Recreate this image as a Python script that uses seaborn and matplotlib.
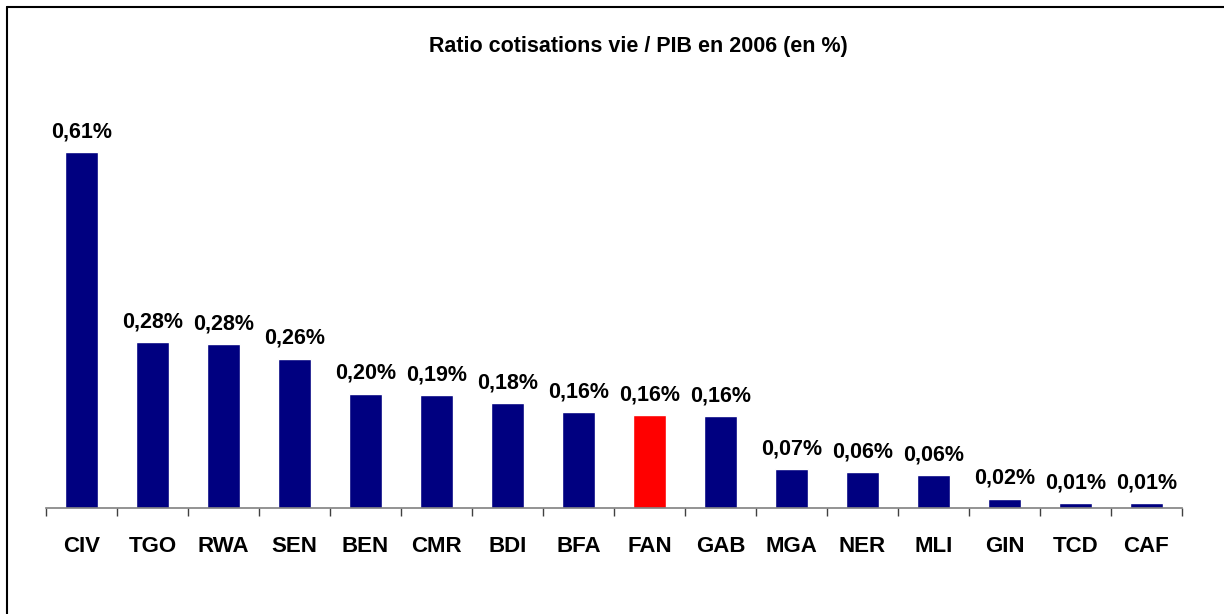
import matplotlib
matplotlib.use("Agg")
import matplotlib.pyplot as plt
from matplotlib.lines import Line2D
from matplotlib.ticker import FixedLocator
import seaborn as sns
import pandas as pd

# Data
countries = ["CIV", "TGO", "RWA", "SEN", "BEN", "CMR", "BDI", "BFA",
             "FAN", "GAB", "MGA", "NER", "MLI", "GIN", "TCD", "CAF"]
ratio = [0.61, 0.284, 0.281, 0.256, 0.196, 0.194, 0.180, 0.164,
         0.159, 0.158, 0.067, 0.062, 0.057, 0.016, 0.009, 0.009]
highlight = "FAN"
title = "Ratio cotisations vie / PIB en 2006 (en %)"

sns.set_theme(style="white")
plt.rcParams['font.family'] = ['Liberation Sans', 'DejaVu Sans']
plt.rcParams['text.color'] = 'black'
plt.rcParams['xtick.color'] = 'black'
plt.rcParams['xtick.labelcolor'] = 'black'

df = pd.DataFrame({"pays": countries, "ratio": ratio})
palette = {c: ("#FF0000" if c == highlight else "#000080") for c in countries}

W, H = 1224, 614
fig = plt.figure(figsize=(W / 100, H / 100), dpi=100)
ax_left, ax_right, ax_bottom = 46, 1182, 508
ymax = 0.70
px_per_unit = 356 / 0.61
ax_top = ax_bottom - ymax * px_per_unit
ax = fig.add_axes([ax_left / W, 1 - ax_bottom / H,
                   (ax_right - ax_left) / W, (ax_bottom - ax_top) / H])

sns.barplot(data=df, x="pays", y="ratio", hue="pays", palette=palette,
            dodge=False, legend=False, width=0.46, saturation=1, ax=ax)

ax.set_xlim(-0.5, len(countries) - 0.5)
ax.set_ylim(0, ymax)

for i, v in enumerate(ratio):
    lab = f"{v:.2f}".replace(".", ",") + "%"
    ax.annotate(lab, (i, v), xytext=(0, 7), textcoords="offset points",
                ha="center", va="bottom", fontsize=15.5, fontweight="bold",
                color="black")

for s in ["left", "right", "top"]:
    ax.spines[s].set_visible(False)
ax.spines["bottom"].set_color("#808080")
ax.spines["bottom"].set_linewidth(1.2)

ax.set_yticks([])
ax.set_xlabel("")
ax.set_ylabel("")
ax.tick_params(axis="x", which="major", length=0, pad=20, labelsize=16,
               labelcolor="black")
for t in ax.get_xticklabels():
    t.set_fontweight("bold")
    t.set_color("black")
ax.xaxis.set_minor_locator(FixedLocator([i - 0.5 for i in range(len(countries) + 1)]))
ax.tick_params(axis="x", which="minor", bottom=True, length=5.5, width=1,
               color="#404040", direction="out")

fig.text(638 / W, 1 - 46.5 / H, title, ha="center", va="center",
         fontsize=15.5, fontweight="bold", color="black")

# Chart frame: top and left edges only (right/bottom outside the picture)
fig.lines.append(Line2D([7 / W, 1.0], [1 - 7 / H, 1 - 7 / H],
                        transform=fig.transFigure, color="black", linewidth=1.5))
fig.lines.append(Line2D([7 / W, 7 / W], [1 - 7 / H, 0.0],
                        transform=fig.transFigure, color="black", linewidth=1.5))

fig.savefig("out.png", dpi=100, facecolor="white")
